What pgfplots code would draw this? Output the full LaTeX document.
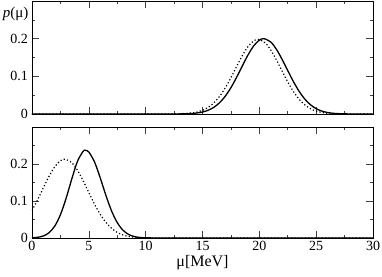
\documentclass[border=0pt]{standalone}
\usepackage{fontspec}
\setmainfont{Liberation Serif}
\usepackage{pgfplots}
\pgfplotsset{compat=1.18}
\begin{document}
\begin{tikzpicture}
\pgfplotsset{
  every axis/.append style={
    scale only axis,
    width=341pt,
    xmin=0, xmax=30, ymin=0, ymax=0.3,
    xtick={0,5,...,30},
    minor xtick={2.5,7.5,...,27.5},
    ytick={0,0.1,0.2},
    minor ytick={0.05,0.15,0.25},
    tick align=inside,
    major tick length=7pt,
    minor tick length=3.2pt,
    axis line style={line width=0.8pt},
    every tick/.style={black!75, line width=0.6pt},
    yticklabel style={/pgf/number format/fixed, xshift=-0.5pt},
    /pgf/number format/assume math mode=true,
    tick label style={font=\fontsize{14}{16}\selectfont},
    label style={font=\fontsize{16}{18}\selectfont},
  },
  solidc/.style={black, line width=1.3pt, smooth},
  dotc/.style={black, line width=1.2pt, dash pattern=on 1.2pt off 2.2pt, smooth},
}
\begin{axis}[name=top, at={(0,0)}, anchor=south west, height=113pt,
  xticklabels={}, clip=false]
\addplot[solidc] coordinates {
(0,0) (12,0) (13,0.0002) (14,0.0012) (14.5,0.0026) (15,0.0052) (15.5,0.0099)
(16,0.0178) (16.5,0.0299) (17,0.0471) (17.5,0.0699) (18,0.0974) (18.5,0.1274)
(19,0.1565) (19.5,0.1807) (20,0.1960) (20.4,0.2000) (21,0.1912) (21.5,0.1719)
(22,0.1452) (22.5,0.1153) (23,0.0859) (23.5,0.0602) (24,0.0396) (24.5,0.0245)
(25,0.0142) (25.5,0.0077) (26,0.0040) (26.5,0.0019) (27,0.0009) (28,0.0001) (29,0) (30,0)};
\addplot[dotc] coordinates {
(0,0) (12,0) (13,0.0005) (14,0.0026) (14.5,0.0051) (15,0.0098) (15.5,0.0176)
(16,0.0296) (16.5,0.0466) (17,0.0692) (17.5,0.0964) (18,0.1261) (18.5,0.1549)
(19,0.1789) (19.5,0.1940) (19.9,0.1980) (20.5,0.1893) (21,0.1702) (21.5,0.1437)
(22,0.1141) (22.5,0.0850) (23,0.0596) (23.5,0.0392) (24,0.0243) (24.5,0.0141)
(25,0.0076) (25.5,0.0040) (26,0.0019) (26.5,0.0009) (27.5,0.0001) (28.5,0) (30,0)};
\node[anchor=east, inner sep=0pt, xshift=-3.5pt, font=\fontsize{15}{17}\selectfont] at (rel axis cs:0,0.885) {\textit{p}(μ)};
\end{axis}
\begin{axis}[name=bot, at={(top.south west)}, yshift=-13pt, anchor=north west, height=111pt,
  xlabel={μ[MeV]}, xlabel style={yshift=2.5pt}]
\addplot[solidc] coordinates {
(0,0.0005) (0.5,0.0019) (1,0.0055) (1.5,0.0143) (2,0.0321) (2.5,0.0628) (3,0.1072)
(3.5,0.1596) (4,0.2072) (4.5,0.2344) (4.7,0.2370) (5,0.2323) (5.5,0.2056) (6,0.1628)
(6.5,0.1154) (7,0.0731) (7.5,0.0415) (8,0.0211) (8.5,0.0096) (9,0.0039) (9.5,0.0014)
(10,0.0005) (11,0.0001) (12,0) (30,0)};
\addplot[dotc] coordinates {
(0,0.0744) (0.5,0.1037) (1,0.1357) (1.5,0.1667) (2,0.1925) (2.5,0.2088) (2.9,0.2130)
(3.5,0.2036) (4,0.1831) (4.5,0.1547) (5,0.1228) (5.5,0.0915) (6,0.0641) (6.5,0.0422)
(7,0.0260) (7.5,0.0151) (8,0.0082) (8.5,0.0042) (9,0.0020) (9.5,0.0009) (10,0.0004)
(11,0) (30,0)};
\end{axis}
\pgfresetboundingbox
\path[use as bounding box] ([xshift=-32pt,yshift=1pt]top.north west) rectangle ([xshift=9pt,yshift=-39pt]bot.south east);
\end{tikzpicture}
\end{document}
